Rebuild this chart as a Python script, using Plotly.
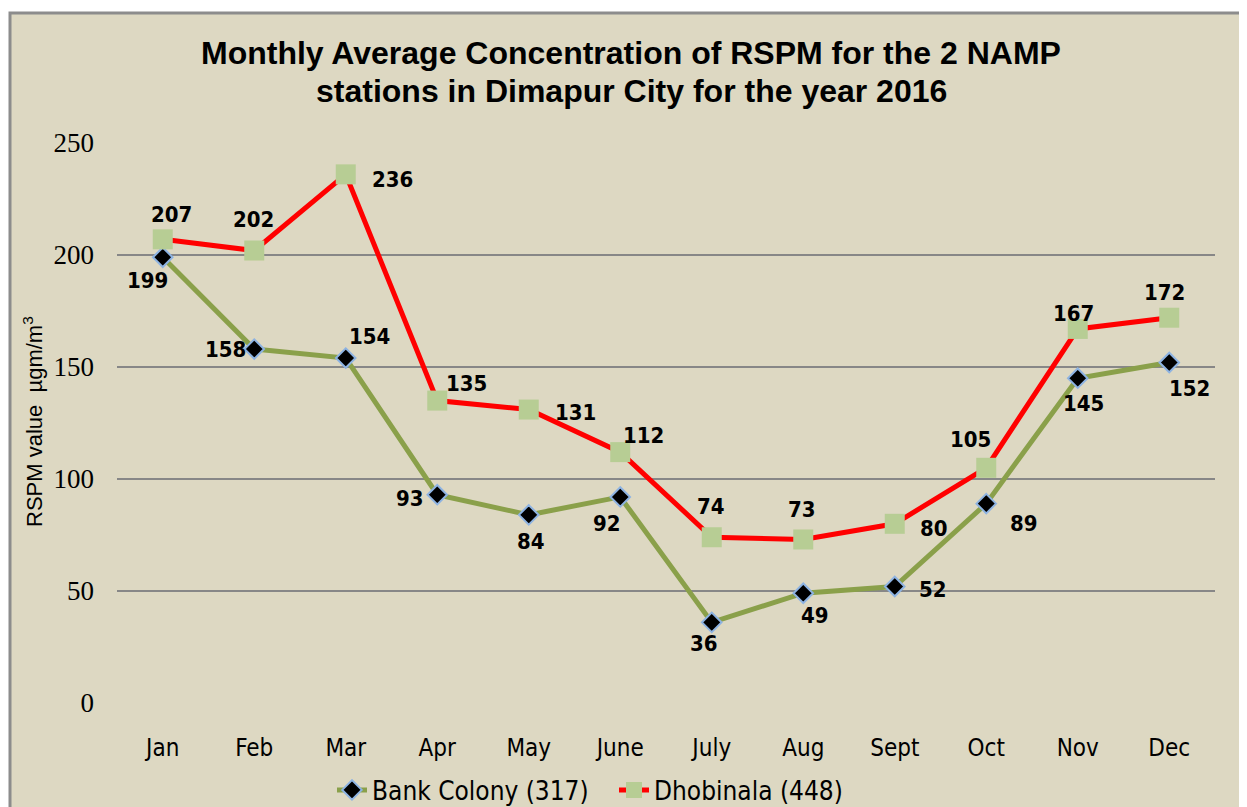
import plotly.graph_objects as go

months = ["Jan", "Feb", "Mar", "Apr", "May", "June", "July", "Aug", "Sept", "Oct", "Nov", "Dec"]
bank_colony = [199, 158, 154, 93, 84, 92, 36, 49, 52, 89, 145, 152]
dhobinala = [207, 202, 236, 135, 131, 112, 74, 73, 80, 105, 167, 172]
bank_name = "Bank Colony (317)"
dhob_name = "Dhobinala (448)"
y_ticks = [0, 50, 100, 150, 200, 250]
title_lines = ["Monthly Average Concentration of RSPM for the 2 NAMP",
               "stations in Dimapur City for the year 2016"]

# label offsets (pixels) for data labels
bank_off = [(-15, -23), (-29, 0), (24, 22), (-27, -4), (2, -27), (-13, -27),
            (-8, -21), (12, -22), (38, -3), (38, -20), (6, -25), (20, -26)]
dhob_off = [(9, 25), (-1, 31), (47, -5), (29, 17), (47, -3), (23, 17),
            (-1, 31), (-1, 30), (39, -5), (-16, 28), (-4, 15), (-5, 25)]

BG = "#DDD8C2"
NARROW = "DejaVu Sans Condensed, Liberation Sans Narrow, Liberation Sans"
label_font = dict(family=NARROW, size=22, color="#000000")

# page body has an 8px margin; work in screen pixels and convert
OFF = 8
FW, FH = 1247 - OFF, 807 - OFF
# plot area in screen pixels: x 117..1215, y 143..703
SX0, SX1, SY0, SY1 = 117, 1215, 143, 703
L, R, T, B = SX0 - OFF, FW - (SX1 - OFF), SY0 - OFF, FH - (SY1 - OFF)
W, H = SX1 - SX0, SY1 - SY0

def px_to_paper_x(px):
    return (px - SX0) / W

def px_to_paper_y(py):
    return (SY1 - py) / H

fig = go.Figure()
fig.add_trace(go.Scatter(
    x=months, y=bank_colony, name=bank_name, mode="lines+markers",
    line=dict(color="#8AA04A", width=5),
    marker=dict(symbol="diamond", size=15, color="#000000", line=dict(color="#8DB3E2", width=2)),
))
fig.add_trace(go.Scatter(
    x=months, y=dhobinala, name=dhob_name, mode="lines+markers",
    line=dict(color="#FF0000", width=5),
    marker=dict(symbol="square", size=20, color="#B7CD94", line=dict(width=0)),
))

annotations = []
for m, v, (dx, dy) in zip(months, bank_colony, bank_off):
    annotations.append(dict(x=m, y=v, text=f"<b>{v}</b>", showarrow=False,
                            xshift=dx, yshift=dy, font=label_font))
for m, v, (dx, dy) in zip(months, dhobinala, dhob_off):
    annotations.append(dict(x=m, y=v, text=f"<b>{v}</b>", showarrow=False,
                            xshift=dx, yshift=dy, font=label_font))

annotations.append(dict(
    text="RSPM value  µgm/m<sup>3</sup>", xref="paper", yref="paper",
    x=px_to_paper_x(33), y=px_to_paper_y(422), textangle=-90,
    showarrow=False, xanchor="center", yanchor="middle",
    font=dict(family="Liberation Sans, Arial", size=22, color="#000000"),
))

for line, ypx in zip(title_lines, [53, 91]):
    annotations.append(dict(
        text=f"<b>{line}</b>", xref="paper", yref="paper",
        x=px_to_paper_x(631), y=px_to_paper_y(ypx),
        showarrow=False, xanchor="center", yanchor="middle",
        font=dict(family="Liberation Sans, Arial", size=32, color="#000000"),
    ))

shapes = [dict(type="rect", xref="paper", yref="paper",
               x0=px_to_paper_x(10), x1=px_to_paper_x(1270),
               y0=px_to_paper_y(830), y1=px_to_paper_y(13),
               fillcolor=BG, line=dict(color="#8C8C8C", width=3), layer="below")]

fig.update_layout(
    width=FW, height=FH,
    margin=dict(l=L, r=R, t=T, b=B, autoexpand=False),
    paper_bgcolor="#FFFFFF",
    plot_bgcolor="rgba(0,0,0,0)",
    shapes=shapes,
    annotations=annotations,
    xaxis=dict(
        range=[-0.5, len(months) - 0.5],
        showgrid=False, zeroline=False, showline=False, automargin=False,
        tickfont=dict(family=NARROW, size=24, color="#000000"),
        ticks="", ticklen=0, ticklabelstandoff=28,
    ),
    yaxis=dict(
        range=[0, 250], tickvals=y_ticks, automargin=False,
        showgrid=True, gridcolor="#878787", gridwidth=2,
        zeroline=False, showline=False, ticks="",
        tickfont=dict(family="Liberation Serif, Times New Roman", size=27, color="#000000"),
        ticklabelstandoff=22,
    ),
    legend=dict(
        orientation="h", x=px_to_paper_x(332), xanchor="left",
        y=px_to_paper_y(790), yanchor="middle",
        font=dict(family=NARROW, size=26, color="#000000"),
        bgcolor="rgba(0,0,0,0)", itemwidth=30, entrywidth=237,
    ),
)

fig.write_html("out.html")
